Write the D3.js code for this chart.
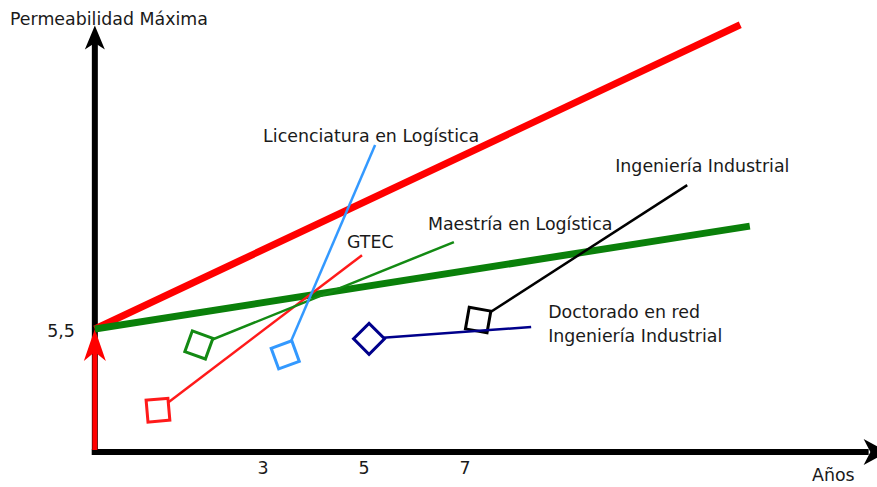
<!DOCTYPE html>
<html>
<head>
<meta charset="utf-8">
<script src="https://cdn.jsdelivr.net/npm/d3@7"></script>
<style>
  body { margin: 0; background: #fff; }
  text { font-family: "DejaVu Sans", sans-serif; fill: #1a1a1a; }
</style>
</head>
<body>
<svg id="chart"></svg>
<script>
// valores
var anosTicks = [3, 5, 7];
var permTicks = [5.5];
var ejeAnos = [-0.32, 15.3];
var ejePerm = [2.5, 12.9];

// tendencias gruesas (parten de 5,5 en el origen)
var tendencias = ["roja", "verde"];
var tendFinAno = [12.46, 12.65];
var tendFinPerm = [12.92, 8.01];

// programas: marcador en el inicio, línea hasta el fin
var programas = ["Ingeniería Industrial", "Doctorado en red", "GTEC", "Maestría en Logística", "Licenciatura en Logística"];
var inicioAno = [7.27, 5.11, 0.93, 1.74, 3.45];
var inicioPerm = [5.72, 5.26, 3.52, 5.11, 4.87];
var finAno = [11.41, 8.32, 4.97, 6.79, 5.23];
var finPerm = [9.01, 5.55, 7.30, 7.62, 9.99];

// estilos
var estiloProg = {
  "Ingeniería Industrial":     { color: "#000000", giro: 10,  etiqueta: ["Ingeniería Industrial"], dx: -72, dy: -13 },
  "Doctorado en red":          { color: "#00008b", giro: 45,  etiqueta: ["Doctorado en red", "Ingeniería Industrial"], dx: 17, dy: -9 },
  "GTEC":                      { color: "#ff1a1a", giro: -5,  etiqueta: ["GTEC"], dx: -15, dy: -7 },
  "Maestría en Logística":     { color: "#138a13", giro: 20,  etiqueta: ["Maestría en Logística"], dx: -26, dy: -12 },
  "Licenciatura en Logística": { color: "#3399ff", giro: -20, etiqueta: ["Licenciatura en Logística"], dx: -112, dy: -3 }
};
var colorTend = { roja: "#ff0000", verde: "#0a800a" };
var fs = 17.4;

var size = { width: 877, height: 487 };

var svg = d3.select("#chart")
  .attr("width", size.width)
  .attr("height", size.height);

var x = d3.scaleLinear().domain([0, 1]).range([111, 161.5]);
var y = d3.scaleLinear().domain([2.5, 3.5]).range([452, 411]);

var x0 = x(ejeAnos[0]);
var y0 = y(ejePerm[0]);

// punta de flecha cóncava
function flecha(tx, ty, ang, largo, ancho){
  var c = Math.cos(ang), s = Math.sin(ang);
  function p(a, b){ return [tx + a * c - b * s, ty + a * s + b * c]; }
  var pts = [p(0, 0), p(-largo, -ancho / 2), p(-largo * 0.72, 0), p(-largo, ancho / 2)];
  return "M" + pts.map(function(d){ return d.join(","); }).join("L") + "Z";
}

// eje Y
svg.append("line")
  .attr("x1", x0).attr("y1", y0 + 3)
  .attr("x2", x0).attr("y2", y(ejePerm[1]) + 15)
  .attr("stroke", "#000").attr("stroke-width", 6);
svg.append("path")
  .attr("d", flecha(x0, y(ejePerm[1]), -Math.PI / 2, 24, 20))
  .attr("fill", "#000");

// eje X
svg.append("line")
  .attr("x1", x0 - 3).attr("y1", y0)
  .attr("x2", x(ejeAnos[1]) - 15).attr("y2", y0)
  .attr("stroke", "#000").attr("stroke-width", 6);
svg.append("path")
  .attr("d", flecha(x(ejeAnos[1]) + 4, y0, 0, 24, 26))
  .attr("fill", "#000");

// ticks
var ejeX = svg.append("g")
  .attr("transform", "translate(0," + y0 + ")")
  .call(d3.axisBottom(x).tickValues(anosTicks).tickFormat(d3.format("d")).tickSize(0).tickPadding(10));
ejeX.select(".domain").remove();
ejeX.selectAll("text").attr("font-size", fs).attr("font-family", "DejaVu Sans").attr("fill", "#1a1a1a");

var ejeY = svg.append("g")
  .attr("transform", "translate(" + x0 + ",0)")
  .call(d3.axisLeft(y).tickValues(permTicks).tickFormat(function(){ return "5,5"; }).tickSize(0).tickPadding(20));
ejeY.select(".domain").remove();
ejeY.selectAll("text").attr("font-size", fs).attr("font-family", "DejaVu Sans").attr("fill", "#1a1a1a").attr("dy", "0.45em");

svg.append("text").attr("x", 10).attr("y", 25).attr("font-size", fs).text("Permeabilidad Máxima");
svg.append("text").attr("x", 812).attr("y", 481).attr("font-size", fs).text("Años");

// flecha roja sobre el eje Y
var yInicio = y(permTicks[0]);
svg.append("line")
  .attr("x1", x0).attr("y1", y0 - 2)
  .attr("x2", x0).attr("y2", yInicio + 20)
  .attr("stroke", "#ff0000").attr("stroke-width", 5);
svg.append("path")
  .attr("d", flecha(x0, yInicio, -Math.PI / 2, 32, 22))
  .attr("fill", "#ff0000");

// tendencias gruesas
svg.selectAll(".tend")
  .data(tendencias)
  .enter().append("line")
  .attr("class", "tend")
  .attr("x1", x0).attr("y1", yInicio)
  .attr("x2", function(d, i){ return x(tendFinAno[i]); })
  .attr("y2", function(d, i){ return y(tendFinPerm[i]); })
  .attr("stroke", function(d){ return colorTend[d]; })
  .attr("stroke-width", 7);

// programas
var prog = svg.selectAll(".prog")
  .data(programas)
  .enter().append("g")
  .attr("class", "prog");

prog.append("line")
  .attr("x1", function(d, i){ return x(inicioAno[i]); })
  .attr("y1", function(d, i){ return y(inicioPerm[i]); })
  .attr("x2", function(d, i){ return x(finAno[i]); })
  .attr("y2", function(d, i){ return y(finPerm[i]); })
  .attr("stroke", function(d){ return estiloProg[d].color; })
  .attr("stroke-width", 2.5);

prog.append("path")
  .attr("d", d3.symbol(d3.symbolSquare, 480))
  .attr("transform", function(d, i){
    return "translate(" + x(inicioAno[i]) + "," + y(inicioPerm[i]) + ") rotate(" + estiloProg[d].giro + ")";
  })
  .attr("fill", "#fff")
  .attr("stroke", function(d){ return estiloProg[d].color; })
  .attr("stroke-width", 3);

prog.each(function(d, i){
  var e = estiloProg[d];
  var t = d3.select(this).append("text")
    .attr("x", x(finAno[i]) + e.dx)
    .attr("y", y(finPerm[i]) + e.dy)
    .attr("font-size", fs);
  e.etiqueta.forEach(function(l, k){
    t.append("tspan").attr("x", x(finAno[i]) + e.dx).attr("dy", k === 0 ? 0 : 24).text(l);
  });
});
</script>
</body>
</html>
